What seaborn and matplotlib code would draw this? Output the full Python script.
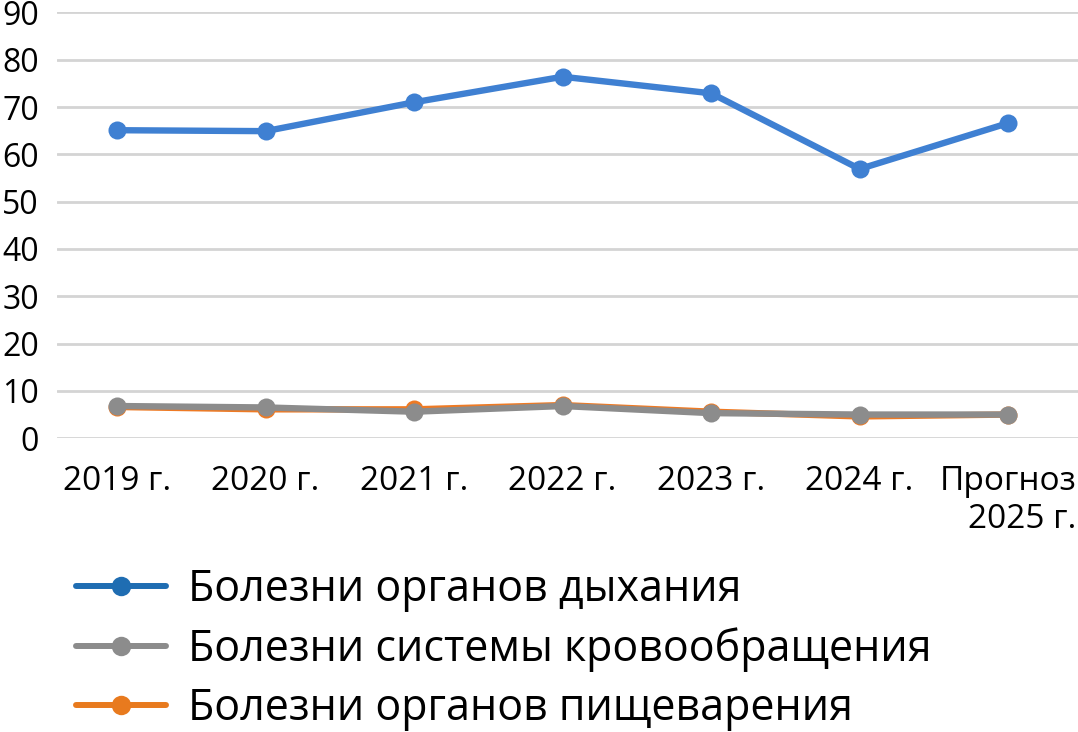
import matplotlib
matplotlib.use("Agg")
import matplotlib.pyplot as plt
import seaborn as sns
import pandas as pd
from matplotlib.lines import Line2D

years = ["2019 г.", "2020 г.", "2021 г.", "2022 г.", "2023 г.", "2024 г.", "Прогноз\n2025 г."]
respiratory = [65.1, 64.9, 71.0, 76.4, 72.9, 56.9, 66.6]
circulatory = [6.8, 6.5, 5.6, 6.8, 5.3, 5.0, 5.0]
digestive = [6.6, 6.1, 6.1, 7.0, 5.6, 4.6, 5.0]

names = ["Болезни органов дыхания", "Болезни системы кровообращения", "Болезни органов пищеварения"]
line_colors = ["#3f80d2", "#8c8c8c", "#ee7a24"]
legend_colors = ["#1f6db2", "#8c8c8c", "#e87a1e"]

sns.set_theme(style="white")
plt.rcParams['font.family'] = ['Open Sans', 'DejaVu Sans']
plt.rcParams['text.color'] = 'black'

fig = plt.figure(figsize=(10.78, 7.32), dpi=100)
ax = fig.add_axes([57 / 1078, 1 - 438.2 / 732, 1 - 57 / 1078, (438.2 - 12.4) / 732])

df = pd.DataFrame({"year": years, "resp": respiratory, "circ": circulatory, "dig": digestive})

series = [("resp", 0, 4), ("dig", 2, 3), ("circ", 1, 5)]
for col, idx, z in series:
    sns.lineplot(data=df, x="year", y=col, ax=ax, color=line_colors[idx], linewidth=4.6,
                 marker="o", markersize=13, markeredgewidth=0, sort=False, zorder=z,
                 clip_on=False)

ax.set_ylim(0, 90)
ax.set_yticks(range(0, 91, 10))
ax.set_xlim(-0.404, 6.47)
ax.grid(axis="y", color="#d4d4d4", linewidth=2)
ax.set_axisbelow(True)
for s in ax.spines.values():
    s.set_visible(False)
ax.set_xlabel("")
ax.set_ylabel("")
ax.tick_params(axis="y", labelsize=23, pad=13, length=0, colors="black")
ax.tick_params(axis="x", labelsize=24, pad=19, length=0, colors="black")
for lab in ax.get_xticklabels():
    lab.set_multialignment("right")
    lab.set_linespacing(1.2)

handles = [Line2D([0], [0], color=c, linewidth=4.3, marker="o", markersize=14, markeredgewidth=0)
           for c in legend_colors]
leg = fig.legend(handles, names, loc="upper left", bbox_to_anchor=(76 / 1078, 1 - 568 / 732),
                 frameon=False, fontsize=31, handlelength=2.1, handletextpad=0.5,
                 labelspacing=0.34, borderpad=0, borderaxespad=0)
for t in leg.get_texts():
    t.set_color("black")

fig.savefig("out.png", dpi=100)
